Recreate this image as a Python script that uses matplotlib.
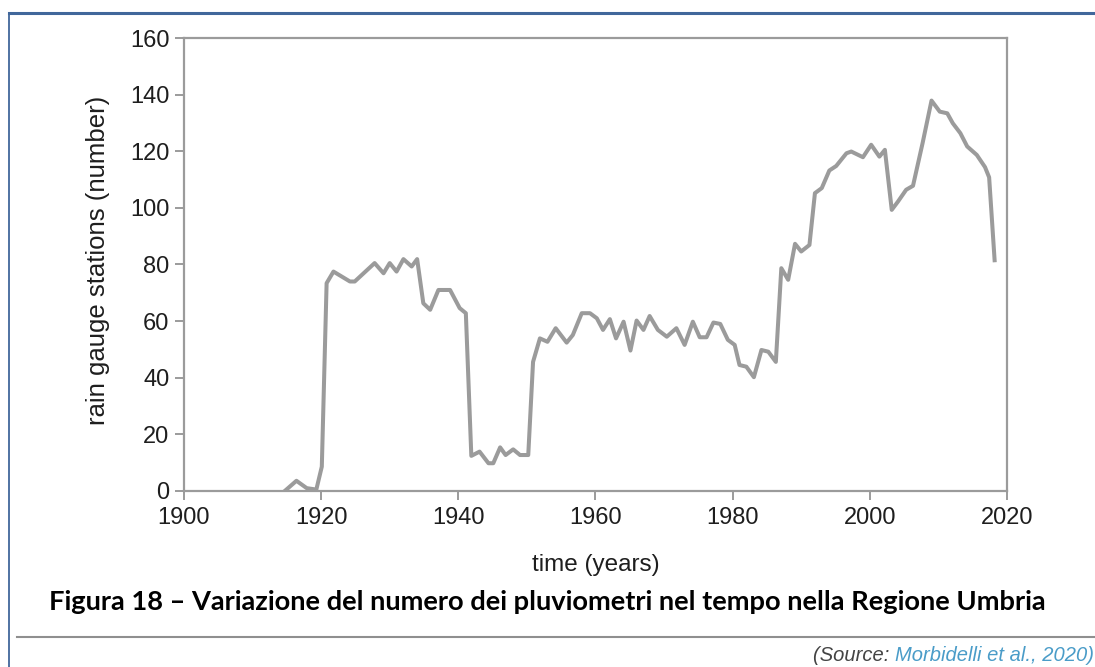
import matplotlib.pyplot as plt
from matplotlib.lines import Line2D

# values (year, number of rain gauge stations)
years = [1914.7, 1916.4, 1917.9, 1919.3, 1920.1, 1920.8, 1921.8, 1924.2, 1924.9,
         1927.8, 1929.1, 1930.0, 1931.0, 1932.0, 1933.2, 1934.0, 1934.9, 1935.9,
         1937.1, 1938.8, 1940.2, 1941.1, 1941.9, 1943.1, 1944.4, 1945.1, 1946.1,
         1946.9, 1948.0, 1949.0, 1950.2, 1950.9, 1951.9, 1953.0, 1954.2, 1955.8,
         1956.7, 1958.0, 1959.2, 1960.2, 1961.1, 1962.1, 1963.0, 1964.1, 1965.1,
         1966.0, 1967.0, 1967.9, 1969.1, 1970.4, 1971.8, 1973.0, 1974.2, 1975.2,
         1976.2, 1977.2, 1978.2, 1979.3, 1980.3, 1981.0, 1982.0, 1983.1, 1984.2,
         1985.2, 1986.3, 1987.1, 1988.1, 1989.1, 1990.0, 1991.2, 1992.0, 1993.0,
         1994.1, 1995.1, 1996.6, 1997.3, 1999.0, 2000.2, 2001.4, 2002.2, 2003.2,
         2004.1, 2005.3, 2006.3, 2007.7, 2009.0, 2010.2, 2011.3, 2012.1, 2013.2,
         2014.2, 2015.6, 2016.8, 2017.4, 2018.2]
stations = [0, 3.6, 1, 0.5, 8.6, 73.4, 77.5, 74, 74,
            80.5, 76.9, 80.5, 77.5, 81.9, 79.3, 81.9, 66.3, 64,
            71, 71, 64.6, 62.8, 12.4, 13.9, 9.8, 9.8, 15.4,
            12.7, 14.7, 12.7, 12.7, 45.6, 53.9, 52.7, 57.5, 52.4,
            55.1, 62.8, 62.8, 61, 56.9, 60.7, 53.9, 59.8, 49.6,
            60.2, 56.9, 61.8, 56.9, 54.5, 57.5, 51.6, 59.8, 54.3,
            54.3, 59.5, 59, 53.4, 51.6, 44.5, 43.9, 40.2, 49.8,
            49.2, 45.6, 78.7, 74.6, 87.3, 84.6, 86.9, 105.2, 107,
            113.2, 114.8, 119.3, 119.9, 117.9, 122.3, 118.1, 120.5, 99.3,
            102.2, 106.4, 107.8, 122.9, 137.9, 134, 133.4, 129.9, 126.4,
            121.7, 118.7, 114.4, 110.8, 81.5]

x_ticks = [1900, 1920, 1940, 1960, 1980, 2000, 2020]
y_ticks = [0, 20, 40, 60, 80, 100, 120, 140, 160]

caption = "Figura 18 \u2013 Variazione del numero dei pluviometri nel tempo nella Regione Umbria"

plt.rcParams['font.family'] = ['Liberation Sans', 'DejaVu Sans']

fig = plt.figure(figsize=(10.95, 6.67), dpi=100)
ax = fig.add_axes([0.168, 0.2639, 0.7516, 0.6791])

grey = '#9b9b9b'
ax.plot(years, stations, color=grey, linewidth=2.9, solid_joinstyle='round')

ax.set_xlim(1900, 2020)
ax.set_ylim(0, 160)
ax.set_xticks(x_ticks)
ax.set_yticks(y_ticks)
for s in ax.spines.values():
    s.set_color(grey)
    s.set_linewidth(1.6)
ax.tick_params(direction='out', length=6.5, width=1.4, color=grey,
               labelsize=17, labelcolor='#1e1e1e')
ax.tick_params(axis='x', pad=5)
ax.tick_params(axis='y', pad=4)

ax.set_ylabel("rain gauge stations (number)", fontsize=18.5, color='#1e1e1e', va='center')
ax.yaxis.set_label_coords(-0.1045, 0.51)
ax.set_xlabel("time (years)", fontsize=17.5, color='#1e1e1e', va='center')
ax.xaxis.set_label_coords(0.5, -0.163)

# caption below the chart
fig.text(0.5, 0.0975, caption, ha='center', va='center', fontsize=19.6,
         fontweight='bold', family=['Lato', 'DejaVu Sans'], color='black')

# frame lines of the document page
blue = '#41679b'
fig.add_artist(Line2D([9 / 1095, 1], [1 - 13 / 667, 1 - 13 / 667], color=blue, lw=2.2))
fig.add_artist(Line2D([9 / 1095, 9 / 1095], [0, 1 - 13 / 667], color=blue, lw=1.3))
fig.add_artist(Line2D([17 / 1095, 1], [1 - 637 / 667, 1 - 637 / 667], color='#8f8f8f', lw=1.5))

# source note
src = fig.text(0.999, 1 - 661 / 667, "Morbidelli et al., 2020)", ha='right', va='baseline',
               fontsize=14.5, style='italic', color='#4a9cc8')
fig.add_artist(plt.Annotation("(Source: ", xy=(0, 0), xycoords=src, ha='right', va='bottom',
                              fontsize=14.5, style='italic', color='#444444'))

fig.savefig("out.png", dpi=100)
